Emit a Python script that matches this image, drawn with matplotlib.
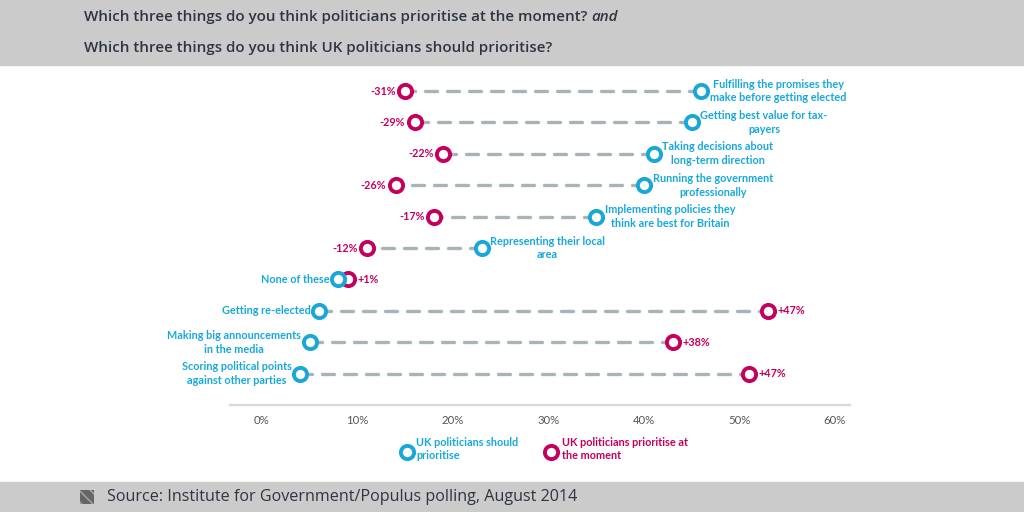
import matplotlib.pyplot as plt
from matplotlib.patches import Rectangle

# Data (percent of respondents)
items = [
    "Fulfilling the promises they\nmake before getting elected",
    "Getting best value for tax-\npayers",
    "Taking decisions about\nlong-term direction",
    "Running the government\nprofessionally",
    "Implementing policies they\nthink are best for Britain",
    "Representing their local\narea",
    "None of these",
    "Getting re-elected",
    "Making big announcements\nin the media",
    "Scoring political points\nagainst other parties",
]
should = [46, 45, 41, 40, 35, 23, 8, 6, 5, 4]
actual = [15, 16, 19, 14, 18, 11, 9, 53, 43, 51]
ticks = [0, 10, 20, 30, 40, 50, 60]

CYAN = "#17a8d9"
MAGENTA = "#c4005e"
DASH = "#a7b3b7"
BAND = "#cbcbcb"
TITLE = "#2f3540"

plt.rcParams['font.family'] = ['Open Sans', 'DejaVu Sans']
label_font = ['Lato', 'DejaVu Sans']
LFS = 7.8

fig = plt.figure(figsize=(10.24, 5.12), dpi=100)

# Grey bands for title and source (behind everything)
fig.patches.append(Rectangle((0, 1 - 65 / 512), 1, 65 / 512, transform=fig.transFigure,
                             color=BAND, zorder=-5))
fig.patches.append(Rectangle((0, 0), 1, 30 / 512, transform=fig.transFigure,
                             color=BAND, zorder=-5))

first = fig.text(84 / 1024, 1 - 17 / 512,
                 "Which three things do you think politicians prioritise at the moment? ",
                 fontsize=10.9, fontweight='semibold', color=TITLE, va='center')
fig.text(84 / 1024, 1 - 48 / 512, "Which three things do you think UK politicians should prioritise?",
         fontsize=10.9, fontweight='semibold', color=TITLE, va='center')
fig.canvas.draw()
bb = first.get_window_extent()
fig.text(bb.x1 / 1024, 1 - 17 / 512, "and", fontsize=10.9, fontstyle='italic',
         fontweight='semibold', color=TITLE, va='center')

# source icon + text
icon = fig.add_axes([80 / 1024, 8 / 512, 14 / 1024, 14 / 512])
icon.set_xlim(0, 1)
icon.set_ylim(0, 1)
icon.axis('off')
icon.add_patch(Rectangle((0, 0), 1, 1, facecolor="#666666", edgecolor="#a8a8a8",
                         lw=0, hatch='\\\\\\'))
fig.text(107 / 1024, 15 / 512, "Source: Institute for Government/Populus polling, August 2014",
         fontsize=11.6, color=TITLE, va='center')

# Main axes
ax = fig.add_axes([230 / 1024, (512 - 405) / 512, 620 / 1024, 340 / 512])
ax.set_facecolor('none')
ax.set_xlim(-3.35, 61.57)
ax.set_ylim(10.0, -0.83)

for i, (s, a) in enumerate(zip(should, actual)):
    ax.plot([s, a], [i, i], color=DASH, lw=2.4, dashes=(3.6, 3.0),
            dash_capstyle='round', zorder=1)
    ax.plot(a, i, 'o', ms=9.5, mew=2.8, mfc='white', mec=MAGENTA, zorder=3)
    ax.plot(s, i, 'o', ms=9.5, mew=2.8, mfc='white', mec=CYAN, zorder=3)
    diff = a - s
    pct = f"{diff:+d}%"
    if s > a:
        ax.text(s + 0.9, i, items[i], ha='left', va='center', fontsize=LFS,
                fontweight='bold', color=CYAN, family=label_font, linespacing=1.3,
                multialignment='center')
        ax.text(a - 1.0, i, pct, ha='right', va='center', fontsize=LFS,
                fontweight='bold', color=MAGENTA, family=label_font)
    else:
        ax.text(s - 0.9, i, items[i], ha='right', va='center', fontsize=LFS,
                fontweight='bold', color=CYAN, family=label_font, linespacing=1.3,
                multialignment='center')
        ax.text(a + 1.0, i, pct, ha='left', va='center', fontsize=LFS,
                fontweight='bold', color=MAGENTA, family=label_font)

for side in ['top', 'left', 'right']:
    ax.spines[side].set_visible(False)
ax.spines['bottom'].set_color('#d8d8d8')
ax.spines['bottom'].set_linewidth(1.6)
ax.set_yticks([])
ax.set_xticks(ticks)
ax.set_xticklabels([f"{v}%" for v in ticks], family=label_font, fontsize=8.2, color='#555555')
ax.tick_params(axis='x', length=0, pad=7)

# Legend
lg = fig.add_axes([0, 40 / 512, 1, 40 / 512])
lg.set_facecolor('none')
lg.set_xlim(0, 1024)
lg.set_ylim(0, 40)
lg.axis('off')
lg.plot(407, 20, 'o', ms=9.5, mew=2.8, mfc='white', mec=CYAN)
lg.text(416, 23, "UK politicians should\nprioritise", ha='left', va='center', fontsize=LFS,
        fontweight='bold', color=CYAN, family=label_font, linespacing=1.3)
lg.plot(551, 20, 'o', ms=9.5, mew=2.8, mfc='white', mec=MAGENTA)
lg.text(562, 23, "UK politicians prioritise at\nthe moment", ha='left', va='center', fontsize=LFS,
        fontweight='bold', color=MAGENTA, family=label_font, linespacing=1.3)

fig.savefig("out.png", dpi=100)
